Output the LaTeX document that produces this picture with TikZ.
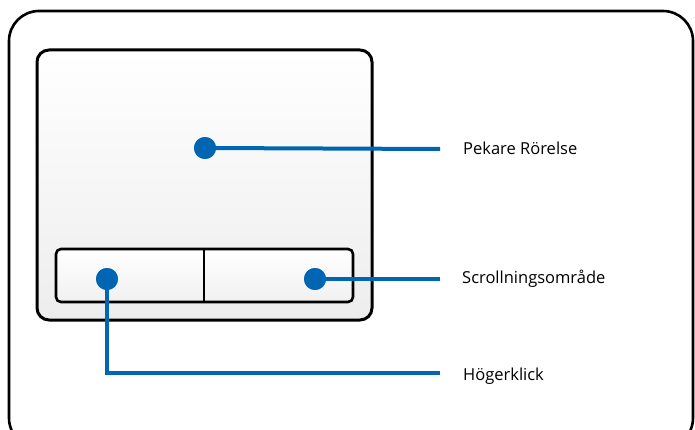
\documentclass[tikz,border=0pt]{standalone}
\usepackage{fontspec}
\setmainfont{Open Sans}
\definecolor{lblue}{HTML}{0066B3}
\definecolor{padgray}{HTML}{EDEDED}
\tikzset{
  frame/.style={draw=black, line width=2.6pt},
  pad/.style={draw=black, line width=3pt, rounded corners=12pt, top color=white, bottom color=padgray},
  btn/.style={draw=black, line width=2.6pt, rounded corners=5pt, top color=white, bottom color=padgray!80},
  lead/.style={draw=lblue, line width=4pt},
  dot/.style={circle, fill=lblue, inner sep=0pt, minimum size=22pt},
  lbl/.style={anchor=west, font=\fontsize{16.5}{18}\selectfont, inner sep=0pt}
}
\begin{document}
\begin{tikzpicture}[x=1pt,y=-1pt]
\useasboundingbox (0,0) rectangle (695,430);
\begin{scope}
\clip (0,0) rectangle (695,430);
\draw[frame, rounded corners=30pt] (9,11) rectangle (693,448);
\end{scope}
\path[pad] (37,50) rectangle (372,320);
\path[btn] (56,249) rectangle (353,302);
\draw[black, line width=2.6pt] (204,249) -- (204,302);
\node[dot] (d1) at (205,148) {};
\node[dot] (d2) at (107,279) {};
\node[dot] (d3) at (315,279) {};
\coordinate (e1) at (440,149);
\coordinate (e3) at (440,279);
\coordinate (e2) at (440,373);
\draw[lead] (d1.center) -- (e1);
\draw[lead] (d3.center) -- (e3);
\draw[lead] (d2.center) |- (e2);
\node[dot] at (d1) {};
\node[dot] at (d2) {};
\node[dot] at (d3) {};
\node[lbl] (t1) at (463,148) {Pekare Rörelse};
\node[lbl] (t2) at (462,279) {Scrollningsområde};
\node[lbl] (t3) at (463,376) {Högerklick};
\end{tikzpicture}
\end{document}
